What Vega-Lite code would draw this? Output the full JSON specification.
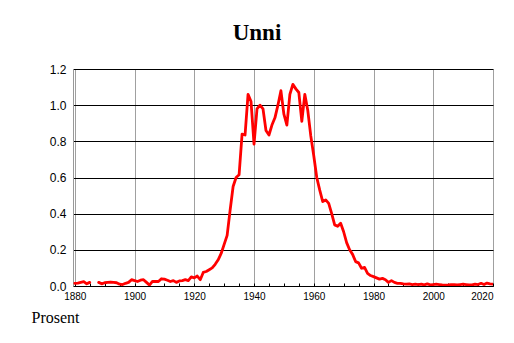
{
  "$schema": "https://vega.github.io/schema/vega-lite/v6.json",
  "width": 420,
  "height": 217,
  "autosize": "none",
  "padding": {"left": 73, "top": 69, "right": 21, "bottom": 57},
  "background": "white",
  "title": {"text": "Unni", "font": "Liberation Serif", "fontSize": 23, "fontWeight": "bold", "color": "black", "anchor": "middle", "frame": "group", "dx": -26, "dy": 20, "offset": 20, "baseline": "alphabetic"},
  "data": {"values": [
    {"year": 1880, "value": 0.015}, {"year": 1881, "value": 0.016}, {"year": 1882, "value": 0.02}, {"year": 1883, "value": 0.024}, {"year": 1884, "value": 0.012}, {"year": 1885, "value": 0.02},
    {"year": 1886, "value": null}, {"year": 1887, "value": null},
    {"year": 1888, "value": 0.02}, {"year": 1889, "value": 0.012}, {"year": 1890, "value": 0.018}, {"year": 1891, "value": 0.02}, {"year": 1892, "value": 0.022}, {"year": 1893, "value": 0.02}, {"year": 1894, "value": 0.018}, {"year": 1895, "value": 0.01}, {"year": 1896, "value": 0.008}, {"year": 1897, "value": 0.015}, {"year": 1898, "value": 0.02}, {"year": 1899, "value": 0.035},
    {"year": 1900, "value": 0.03}, {"year": 1901, "value": 0.025}, {"year": 1902, "value": 0.032}, {"year": 1903, "value": 0.035}, {"year": 1904, "value": 0.02}, {"year": 1905, "value": 0.005}, {"year": 1906, "value": 0.025}, {"year": 1907, "value": 0.025}, {"year": 1908, "value": 0.025}, {"year": 1909, "value": 0.04},
    {"year": 1910, "value": 0.038}, {"year": 1911, "value": 0.032}, {"year": 1912, "value": 0.025}, {"year": 1913, "value": 0.03}, {"year": 1914, "value": 0.02}, {"year": 1915, "value": 0.028}, {"year": 1916, "value": 0.03}, {"year": 1917, "value": 0.035}, {"year": 1918, "value": 0.03}, {"year": 1919, "value": 0.05},
    {"year": 1920, "value": 0.045}, {"year": 1921, "value": 0.055}, {"year": 1922, "value": 0.035}, {"year": 1923, "value": 0.075}, {"year": 1924, "value": 0.08}, {"year": 1925, "value": 0.09}, {"year": 1926, "value": 0.1}, {"year": 1927, "value": 0.12}, {"year": 1928, "value": 0.145}, {"year": 1929, "value": 0.18},
    {"year": 1930, "value": 0.23}, {"year": 1931, "value": 0.28}, {"year": 1932, "value": 0.42}, {"year": 1933, "value": 0.55}, {"year": 1934, "value": 0.6}, {"year": 1935, "value": 0.615}, {"year": 1936, "value": 0.84}, {"year": 1937, "value": 0.835}, {"year": 1938, "value": 1.06}, {"year": 1939, "value": 1.02},
    {"year": 1940, "value": 0.785}, {"year": 1941, "value": 0.98}, {"year": 1942, "value": 1.0}, {"year": 1943, "value": 0.98}, {"year": 1944, "value": 0.86}, {"year": 1945, "value": 0.835}, {"year": 1946, "value": 0.89}, {"year": 1947, "value": 0.93}, {"year": 1948, "value": 1.0}, {"year": 1949, "value": 1.08},
    {"year": 1950, "value": 0.95}, {"year": 1951, "value": 0.89}, {"year": 1952, "value": 1.06}, {"year": 1953, "value": 1.115}, {"year": 1954, "value": 1.09}, {"year": 1955, "value": 1.07}, {"year": 1956, "value": 0.91}, {"year": 1957, "value": 1.06}, {"year": 1958, "value": 0.97}, {"year": 1959, "value": 0.83},
    {"year": 1960, "value": 0.72}, {"year": 1961, "value": 0.6}, {"year": 1962, "value": 0.53}, {"year": 1963, "value": 0.467}, {"year": 1964, "value": 0.476}, {"year": 1965, "value": 0.457}, {"year": 1966, "value": 0.4}, {"year": 1967, "value": 0.338}, {"year": 1968, "value": 0.33}, {"year": 1969, "value": 0.347},
    {"year": 1970, "value": 0.3}, {"year": 1971, "value": 0.24}, {"year": 1972, "value": 0.2}, {"year": 1973, "value": 0.175}, {"year": 1974, "value": 0.135}, {"year": 1975, "value": 0.128}, {"year": 1976, "value": 0.098}, {"year": 1977, "value": 0.103}, {"year": 1978, "value": 0.07}, {"year": 1979, "value": 0.058},
    {"year": 1980, "value": 0.052}, {"year": 1981, "value": 0.045}, {"year": 1982, "value": 0.038}, {"year": 1983, "value": 0.042}, {"year": 1984, "value": 0.035}, {"year": 1985, "value": 0.02}, {"year": 1986, "value": 0.03}, {"year": 1987, "value": 0.02}, {"year": 1988, "value": 0.015}, {"year": 1989, "value": 0.015},
    {"year": 1990, "value": 0.012}, {"year": 1991, "value": 0.01}, {"year": 1992, "value": 0.012}, {"year": 1993, "value": 0.008}, {"year": 1994, "value": 0.01}, {"year": 1995, "value": 0.008}, {"year": 1996, "value": 0.01}, {"year": 1997, "value": 0.006}, {"year": 1998, "value": 0.012}, {"year": 1999, "value": 0.006},
    {"year": 2000, "value": 0.008}, {"year": 2001, "value": 0.01}, {"year": 2002, "value": 0.008}, {"year": 2003, "value": 0.006}, {"year": 2004, "value": 0.005}, {"year": 2005, "value": 0.006}, {"year": 2006, "value": 0.008}, {"year": 2007, "value": 0.008}, {"year": 2008, "value": 0.006}, {"year": 2009, "value": 0.008},
    {"year": 2010, "value": 0.01}, {"year": 2011, "value": 0.008}, {"year": 2012, "value": 0.006}, {"year": 2013, "value": 0.006}, {"year": 2014, "value": 0.01}, {"year": 2015, "value": 0.008}, {"year": 2016, "value": 0.015}, {"year": 2017, "value": 0.008}, {"year": 2018, "value": 0.016}, {"year": 2019, "value": 0.012}, {"year": 2020, "value": 0.01}
  ]},
  "mark": {"type": "line", "color": "#ff0000", "strokeWidth": 2.8, "strokeCap": "round", "strokeJoin": "round", "clip": true, "invalid": "break-paths-show-domains"},
  "encoding": {
    "x": {
      "field": "year", "type": "quantitative",
      "scale": {"domain": [1879.4, 2020], "nice": false, "zero": false},
      "axis": {
        "values": [1880,1885,1890,1895,1900,1905,1910,1915,1920,1925,1930,1935,1940,1945,1950,1955,1960,1965,1970,1975,1980,1985,1990,1995,2000,2005,2010,2015,2020],
        "format": "d",
        "labelExpr": "datum.value % 20 == 0 ? datum.label : ''",
        "labelFont": "Liberation Sans", "labelFontSize": 10, "labelColor": "black",
        "labelAlign": {"condition": {"test": "datum.value == 2020", "value": "right"}, "value": "center"},
        "labelPadding": 8,
        "labelOverlap": false,
        "tickSize": -3, "tickColor": "black", "tickWidth": 1,
        "domainColor": "black", "domainWidth": 1,
        "grid": true,
        "gridColor": "#a0a0a0",
        "gridOpacity": {"condition": {"test": "datum.value % 20 == 0", "value": 1}, "value": 0},
        "title": "Prosent", "titleFont": "Liberation Serif", "titleFontSize": 16, "titleFontWeight": "normal", "titleColor": "black",
        "titleX": -42, "titleY": 36, "titleAlign": "left", "titleBaseline": "alphabetic", "titleAngle": 0
      }
    },
    "y": {
      "field": "value", "type": "quantitative",
      "scale": {"domain": [0, 1.2], "nice": false},
      "axis": {
        "values": [0, 0.2, 0.4, 0.6, 0.8, 1.0, 1.2],
        "format": ".1f",
        "labelFont": "Liberation Sans", "labelFontSize": 12, "labelColor": "black",
        "labelPadding": 7,
        "ticks": false,
        "domainColor": "#999999",
        "grid": true, "gridColor": "black", "gridOpacity": 1, "gridWidth": 1,
        "title": null
      }
    }
  },
  "config": {"view": {"stroke": null}}
}
